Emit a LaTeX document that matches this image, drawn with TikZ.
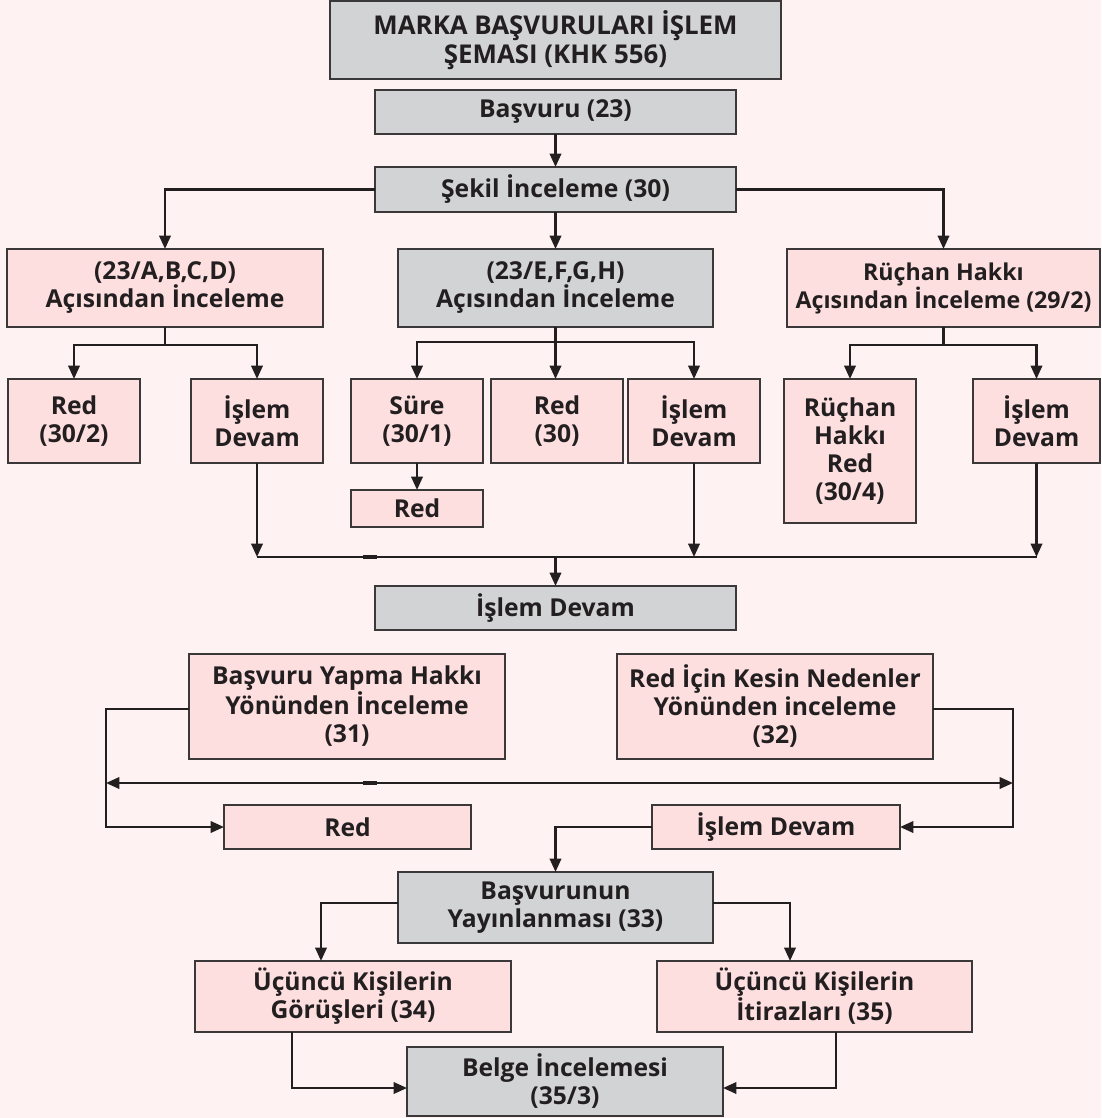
\documentclass[tikz,border=0pt]{standalone}
\usepackage{fontspec}
\setmainfont{Open Sans}
\usetikzlibrary{arrows.meta,calc}
\definecolor{bgc}{HTML}{FEF2F2}
\definecolor{pinkc}{HTML}{FDDFE0}
\definecolor{grayc}{HTML}{D1D3D4}
\definecolor{edgec}{HTML}{3A3839}
\definecolor{inkc}{HTML}{231F20}
\tikzset{
  wh/.style 2 args={minimum width=#1*0.75pt, minimum height=#2*0.75pt},
  boxbase/.style={draw=edgec, line width=1.5pt, inner sep=0pt, outer sep=0pt,
    align=center, text=inkc, font=\fontsize{18.5}{21}\selectfont\bfseries},
  pinkbox/.style={boxbase, fill=pinkc},
  graybox/.style={boxbase, fill=grayc},
  link/.style={draw=inkc, line width=1.8pt},
  arr/.style={link, -{Triangle[length=10pt,width=8.5pt]}},
  arrboth/.style={link, {Triangle[length=10pt,width=8.5pt]}-{Triangle[length=10pt,width=8.5pt]}},
  blot/.style={draw=inkc, line width=3pt}
}
\begin{document}
\begin{tikzpicture}[x=0.75pt,y=-0.75pt]
\useasboundingbox (0,0) rectangle (1101,1118);
\fill[bgc] (0,0) rectangle (1101,1118);

% top of the chart
\node[graybox, wh={451}{78}, font=\fontsize{19.4}{21.5}\selectfont\bfseries] (title) at (555.5,40) {MARKA BAŞVURULARI İŞLEM\\ŞEMASI (KHK 556)};
\node[graybox, wh={361}{44}] (basvuru) at (555.5,112) {Başvuru (23)};
\node[graybox, wh={361}{45}] (sekil) at (555.5,189.5) {Şekil İnceleme (30)};

% three examinations
\node[pinkbox, wh={316}{78}] (abcd) at (165,288) {(23/A,B,C,D)\\Açısından İnceleme};
\node[graybox, wh={315}{78}] (efgh) at (555.5,288) {(23/E,F,G,H)\\Açısından İnceleme};
\node[pinkbox, wh={313}{78}, font=\fontsize{17.4}{21}\selectfont\bfseries] (ruchan) at (943.5,288) {Rüçhan Hakkı\\Açısından İnceleme (29/2)};

% outcomes
\node[pinkbox, wh={132}{84}] (red302) at (74,421) {Red\\(30/2)};
\node[pinkbox, wh={132}{84}] (devA) at (257,421) {İşlem\\Devam};
\node[pinkbox, wh={132}{84}] (sure) at (417,421) {Süre\\(30/1)};
\node[pinkbox, wh={132}{84}] (red30) at (557,421) {Red\\(30)};
\node[pinkbox, wh={132}{84}] (devB) at (694,421) {İşlem\\Devam};
\node[pinkbox, wh={132}{37}] (redsure) at (417,508.5) {Red};
\node[pinkbox, wh={132}{144}] (ruchanred) at (850,451) {Rüçhan\\Hakkı\\Red\\(30/4)};
\node[pinkbox, wh={127}{84}] (devC) at (1036.5,421) {İşlem\\Devam};

\node[graybox, wh={361}{44}] (devam) at (555.5,608) {İşlem Devam};

% second stage
\node[pinkbox, wh={316}{105}] (yapma) at (347,706.5) {Başvuru Yapma Hakkı\\Yönünden İnceleme\\(31)};
\node[pinkbox, wh={316}{105}] (kesin) at (775,706.5) {Red İçin Kesin Nedenler\\Yönünden inceleme\\(32)};
\node[pinkbox, wh={247}{44}] (redB) at (347.5,827) {Red};
\node[pinkbox, wh={248}{44}] (devD) at (776,827) {İşlem Devam};

% publication
\node[graybox, wh={315}{71}] (yayin) at (555.5,907.5) {Başvurunun\\Yayınlanması (33)};
\node[pinkbox, wh={316}{71}] (gorus) at (353,996.5) {Üçüncü Kişilerin\\Görüşleri (34)};
\node[pinkbox, wh={315}{71}] (itiraz) at (814.5,996.5) {Üçüncü Kişilerin\\İtirazları (35)};
\node[graybox, wh={316}{69}] (belge) at (565,1081.5) {Belge İncelemesi\\(35/3)};

% rails
\coordinate (busA) at (257,557);
\coordinate (railL) at (106,783);
\coordinate (railR) at (1013,783);

% connectors: first stage
\draw[arr] (basvuru) -- (sekil);
\draw[arr] (sekil.west) -| (abcd.north);
\draw[arr] (sekil) -- (efgh);
\draw[arr] (sekil.east) -| (ruchan.north);

\draw[link] (abcd.south) -- ++(0,18) coordinate (fA);
\draw[arr] (fA) -| (red302.north);
\draw[arr] (fA) -| (devA.north);

\draw[link] (efgh.south) -- ++(0,15) coordinate (fB);
\draw[arr] (fB) -| (sure.north);
\draw[arr] (fB) -- (fB |- red30.north);
\draw[arr] (fB) -| (devB.north);
\draw[arr] (sure) -- (redsure);

\draw[link] (ruchan.south) -- ++(0,18) coordinate (fC);
\draw[arr] (fC) -| (ruchanred.north);
\draw[arr] (fC) -| (devC.north);

\draw[arr] (devA.south) -- (devA.south |- busA);
\draw[arr] (devB.south) -- (devB.south |- busA);
\draw[arr] (devC.south) -- (devC.south |- busA);
\draw[link] (devA.south |- busA) -- (devC.south |- busA);
\draw[blot] (363,557) -- (377,557);
\draw[arr] (devam.north |- busA) -- (devam.north);

% connectors: second stage
\draw[arr] ($(yapma.west)+(0,2.5)$) -| (redB.west -| railL) -- (redB.west);
\draw[arr] ($(kesin.east)+(0,2.5)$) -| (devD.east -| railR) -- (devD.east);
\draw[arrboth] (railL) -- (railR);
\draw[blot] (363,783) -- (377,783);
\draw[arr] (devD.west) -| (yayin.north);

% connectors: publication
\draw[arr] ($(yayin.west)+(0,-4.5)$) -| ($(gorus.north)+(-32,0)$);
\draw[arr] ($(yayin.east)+(0,-4.5)$) -| ($(itiraz.north)+(-24.5,0)$);
\draw[arr] ($(gorus.south)+(-61,0)$) |- ($(belge.west)+(0,6.5)$);
\draw[arr] ($(itiraz.south)+(21.5,0)$) |- ($(belge.east)+(0,6.5)$);
\end{tikzpicture}
\end{document}
